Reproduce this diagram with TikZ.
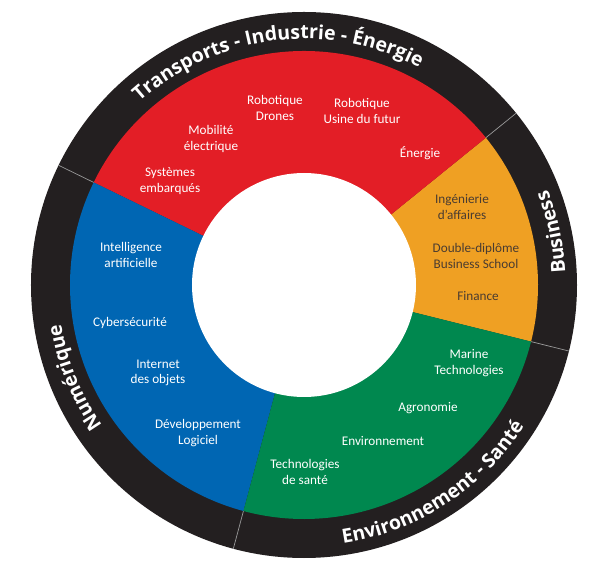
\documentclass[tikz,border=0pt]{standalone}
\usepackage{fontspec}
\setmainfont{Carlito}
\newfontfamily\ringfont{Open Sans}
\usetikzlibrary{decorations.text}
\definecolor{ringblack}{HTML}{231F20}
\definecolor{secred}{HTML}{E31E26}
\definecolor{secorange}{HTML}{EFA023}
\definecolor{secgreen}{HTML}{00884F}
\definecolor{secblue}{HTML}{0066B3}
\definecolor{orangetext}{HTML}{4A3C31}
\definecolor{sepgray}{HTML}{9A9A9A}
\tikzset{
  lbl/.style={align=center, text=white, inner sep=0pt, font=\fontsize{13.2}{15.5}\selectfont},
  lblo/.style={lbl, text=orangetext},
  sep/.style={draw=sepgray, line width=0.7pt},
  ringtxt/.style={decorate, decoration={text along path, text align=center, text color=white,
     text={|\ringfont\bfseries\fontsize{19.5}{19.5}\selectfont|#1}}}
}
\begin{document}
\begin{tikzpicture}[x=1pt,y=1pt]
\useasboundingbox (-304,-284) rectangle (298,285);
% outer ring
\fill[ringblack] (0,0) circle (273);
% sectors
\fill[secorange] (0,0) -- (-14:234) arc[start angle=-14, end angle=39, radius=234] -- cycle;
\fill[secred] (0,0) -- (39:234) arc[start angle=39, end angle=154, radius=234] -- cycle;
\fill[secblue] (0,0) -- (154:234) arc[start angle=154, end angle=255, radius=234] -- cycle;
\fill[secgreen] (0,0) -- (255:234) arc[start angle=255, end angle=346, radius=234] -- cycle;
\fill[white] (0,0) circle (112);
% separators in the ring
\coordinate (s1a) at (154:234); \coordinate (s1b) at (154:273);
\coordinate (s2a) at (39:234);  \coordinate (s2b) at (39:273);
\coordinate (s3a) at (-14:234); \coordinate (s3b) at (-14:273);
\coordinate (s4a) at (255:234); \coordinate (s4b) at (255:273);
\draw[sep] (s1a) -- (s1b);
\draw[sep] (s2a) -- (s2b);
\draw[sep] (s3a) -- (s3b);
\draw[sep] (s4a) -- (s4b);
% ring labels
\path[ringtxt={Transports - Industrie - Énergie}] (167:246) arc[start angle=167, end angle=27, radius=246];
\path[ringtxt={Business}] (-40:261.5) arc[start angle=-40, end angle=64, radius=261.5];
\path[ringtxt={Environnement - Santé}] (-112:261.5) arc[start angle=-112, end angle=-2, radius=261.5];
\path[ringtxt={Numérique}] (250:246) arc[start angle=250, end angle=154, radius=246];
% red
\node[lbl] (rd) at (-29,177) {Robotique\\Drones};
\node[lbl] (ru) at (58,174) {Robotique\\Usine du futur};
\node[lbl] (me) at (-93,146) {Mobilité\\électrique};
\node[lbl] (en) at (116,132) {Énergie};
\node[lbl] (se) at (-134,104) {Systèmes\\embarqués};
% orange
\node[lblo] (ia) at (158,78) {Ingénierie\\d’affaires};
\node[lblo] (dd) at (172,29) {Double-diplôme\\Business School};
\node[lblo] (fi) at (174,-11) {Finance};
% blue
\node[lbl] (ai) at (-173,30) {Intelligence\\artificielle};
\node[lbl] (cy) at (-174,-38) {Cybersécurité};
\node[lbl] (io) at (-146,-88) {Internet\\des objets};
\node[lbl] (dl) at (-106,-148) {Développement\\Logiciel};
% green
\node[lbl] (mt) at (165,-78) {Marine\\Technologies};
\node[lbl] (ag) at (124,-123) {Agronomie};
\node[lbl] (ev) at (79,-156) {Environnement};
\node[lbl] (ts) at (1,-187) {Technologies\\de santé};
\end{tikzpicture}
\end{document}
